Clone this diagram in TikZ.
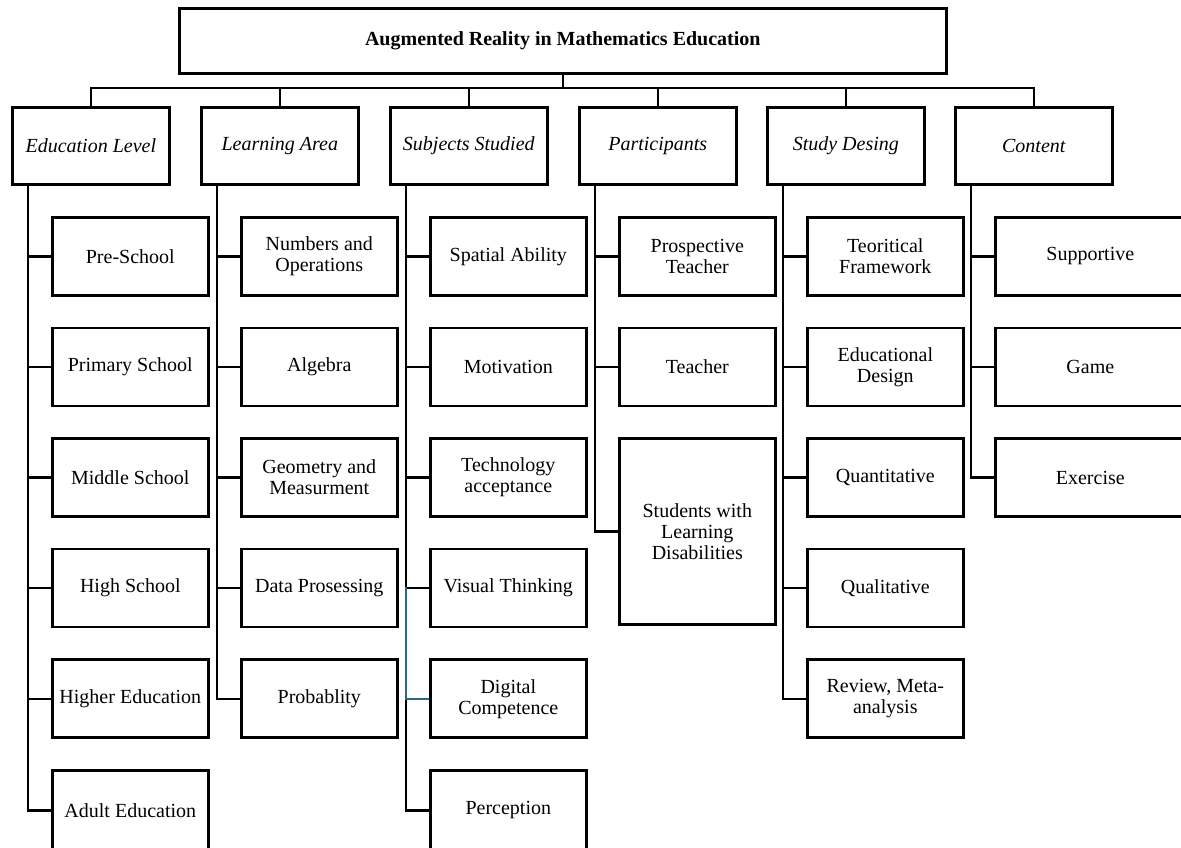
\documentclass[tikz,border=0pt]{standalone}
\usepackage{fontspec}
\setmainfont{Liberation Serif}
\definecolor{linkblue}{RGB}{42,104,135}
\begin{document}
\begin{tikzpicture}[x=1pt,y=-1pt,
  every node/.style={font=\fontsize{20}{21}\selectfont},
  boxbase/.style={draw, rectangle, line width=2.6pt, inner sep=0pt, align=center, anchor=north west},
  titlebox/.style={boxbase, minimum width=767pt, minimum height=65pt, font=\fontsize{20}{21}\selectfont\bfseries},
  hdr/.style={boxbase, minimum width=157pt, minimum height=77pt, font=\fontsize{20}{21}\selectfont\itshape},
  kid/.style={boxbase, minimum width=156pt, minimum height=78pt},
  conn/.style={line width=2.4pt},
  blueconn/.style={line width=2.4pt, draw=linkblue}]
\useasboundingbox (0,0) rectangle (1181,848);
\clip (0,0) rectangle (1181,848);
% title
\node[titlebox] (title) at (178,7) {Augmented Reality in Mathematics Education};
% headers
\node[hdr] (h1) at (11,106) {Education Level};
\node[hdr] (h2) at (200,106) {Learning Area};
\node[hdr] (h3) at (389,106) {Subjects Studied};
\node[hdr] (h4) at (578,106) {Participants};
\node[hdr] (h5) at (766,106) {Study Desing};
\node[hdr] (h6) at (954,106) {Content};
\coordinate (bus) at (562,88);
\draw[conn] (title.south) -- (title.south |- bus);
\draw[conn] (h1.north) -- (h1.north |- bus) -- (h6.north |- bus) -- (h6.north);
\foreach \h in {h2,h3,h4,h5} \draw[conn] (\h.north) -- (\h.north |- bus);
% column line tops
\foreach \h/\l in {h1/l1,h2/l2,h3/l3,h4/l4,h5/l5,h6/l6}
  \coordinate (\l) at ([xshift=17pt]\h.south west);
% column 1
\foreach \t [count=\j] in {Pre-School, Primary School, Middle School, High School, Higher Education}
  \node[kid] (a\j) at (51,{216+(\j-1)*110.6}) {\t};
\node[kid, minimum height=80pt] (a6) at (51,769) {Adult Education};
% column 2
\foreach \t [count=\j] in {{Numbers and\\Operations}, Algebra, {Geometry and\\Measurment}, Data Prosessing, Probablity}
  \node[kid] (b\j) at (240,{216+(\j-1)*110.6}) {\t};
% column 3
\foreach \t [count=\j] in {Spatial Ability, Motivation, {Technology\\acceptance}, Visual Thinking, {Digital\\Competence}}
  \node[kid] (c\j) at (429,{216+(\j-1)*110.6}) {\t};
\node[kid, minimum height=80pt] (c6) at (429,769) {Perception};
% column 4
\node[kid] (d1) at (618,216) {Prospective\\Teacher};
\node[kid] (d2) at (618,326.6) {Teacher};
\node[kid, minimum height=186pt] (d3) at (618,437) {Students with\\Learning\\Disabilities};
% column 5
\foreach \t [count=\j] in {{Teoritical\\Framework}, {Educational\\Design}, Quantitative, Qualitative, {Review, Meta-\\analysis}}
  \node[kid] (e\j) at (806,{216+(\j-1)*110.6}) {\t};
% column 6
\foreach \t [count=\j] in {Supportive, Game, Exercise}
  \node[kid, minimum width=190pt] (f\j) at (994,{216+(\j-1)*110.6}) {\t};
% connectors
\draw[conn] (l1) |- (a6.west);
\foreach \j in {1,...,5} \draw[conn] (l1 |- a\j.west) -- (a\j.west);
\draw[conn] (l2) |- (b5.west);
\foreach \j in {1,...,4} \draw[conn] (l2 |- b\j.west) -- (b\j.west);
\draw[conn] (l3) |- (c6.west);
\foreach \j in {1,...,5} \draw[conn] (l3 |- c\j.west) -- (c\j.west);
\draw[conn] (l4) |- (d3.west);
\foreach \j in {1,2} \draw[conn] (l4 |- d\j.west) -- (d\j.west);
\draw[conn] (l5) |- (e5.west);
\foreach \j in {1,...,4} \draw[conn] (l5 |- e\j.west) -- (e\j.west);
\draw[conn] (l6) |- (f3.west);
\foreach \j in {1,2} \draw[conn] (l6 |- f\j.west) -- (f\j.west);
% blue segment
\draw[blueconn] ([yshift=1.5pt]l3 |- c4.west) -- (l3 |- c5.west) -- (c5.west);
\end{tikzpicture}
\end{document}
